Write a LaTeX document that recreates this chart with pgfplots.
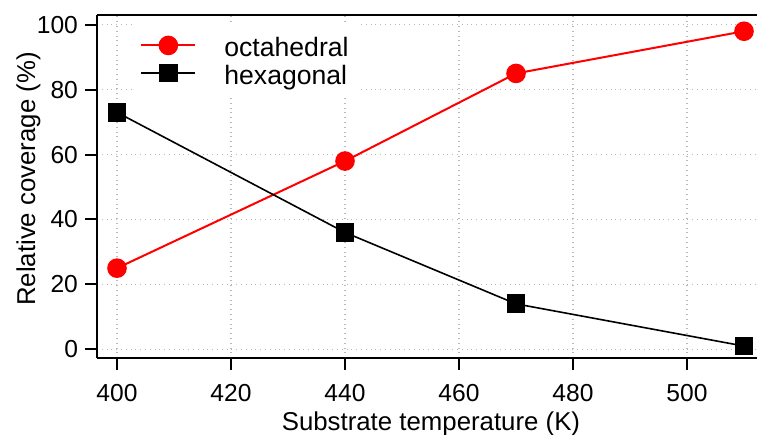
\documentclass[border=0pt]{standalone}
\usepackage{pgfplots}
\pgfplotsset{compat=1.18}
\usepackage{fontspec}
\setmainfont{Liberation Sans}
\begin{document}
\begin{tikzpicture}
\begin{axis}[
  name=ax,
  scale only axis,
  width=330pt, height=171.5pt,
  xmin=396.49, xmax=512.28,
  ymin=-2.68, ymax=103.0,
  axis x line*=box, axis y line*=left,
  x axis line style={-}, y axis line style={-},
  axis line style={line width=1pt, black},
  xtick={400,420,...,500}, ytick={0,20,...,100},
  xtick pos=left, ytick pos=left,
  tick align=outside, major tick length=6pt,
  tick style={black, line width=1pt},
  grid=major,
  major grid style={dotted, color=gray!55, line width=0.6pt},
  ticklabel style={font=\fontsize{12.3}{14}\selectfont},
  xticklabel style={yshift=-3.5pt},
  /pgf/number format/assume math mode=true,
  xlabel={Substrate temperature (K)},
  xlabel style={at={(axis description cs:0.506,-0.21)}, anchor=base, font=\fontsize{12.9}{15}\selectfont},
  ylabel={Relative coverage (\%)},
  ylabel style={at={(axis description cs:-0.0939,0.522)}, anchor=base, font=\fontsize{12.9}{15}\selectfont},
  legend style={at={(axis description cs:0.053,0.976)}, anchor=north west, draw=none, fill=white, inner sep=4pt,
    font=\fontsize{13.3}{15}\selectfont,
    nodes={inner sep=0pt, text height=12.4pt, text depth=1.4pt},
    row sep=0pt,
    /tikz/every odd column/.append style={column sep=14pt}},
  legend cell align=left,
  legend image code/.code={\draw[mark repeat=2,mark phase=2,#1] plot coordinates {(0pt,0pt)(13.5pt,0pt)(27pt,0pt)};},
]
\addplot[red, line width=1pt, mark=*, mark size=4.4pt, mark options={solid, fill=red}]
  coordinates {(400,25)(440,58)(470,85)(510,98)};
\addlegendentry{octahedral}
\addplot[black, line width=0.8pt, mark=square*, mark size=4.3pt, mark options={solid, fill=black, rounded corners=1pt}]
  coordinates {(400,73)(440,36)(470,14)(510,1)};
\addlegendentry{hexagonal}
\end{axis}
\pgfresetboundingbox
\path ([xshift=-48.5pt,yshift=-38pt]ax.south west) rectangle ([yshift=7.5pt]ax.north east);
\end{tikzpicture}
\end{document}
